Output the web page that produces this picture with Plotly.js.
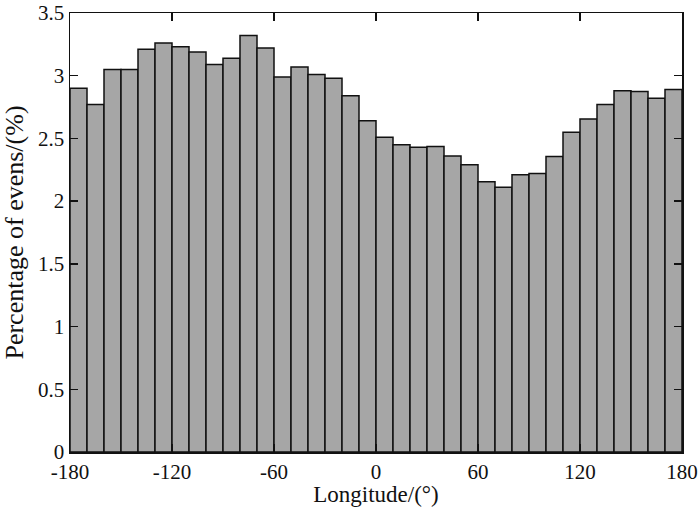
<!DOCTYPE html>
<html>
<head>
<meta charset="utf-8">
<script src="https://cdn.plot.ly/plotly-3.0.1.min.js"></script>
<style>html,body{margin:0;padding:0;background:#fff}#chart{width:700px;height:507px}</style>
</head>
<body>
<div id="chart"></div>
<script>
var binCenters = [-175,-165,-155,-145,-135,-125,-115,-105,-95,-85,-75,-65,-55,-45,-35,-25,-15,-5,
                  5,15,25,35,45,55,65,75,85,95,105,115,125,135,145,155,165,175];
var percentages = [2.90,2.77,3.05,3.05,3.21,3.26,3.23,3.19,3.09,3.14,3.32,3.22,2.99,3.07,3.01,2.98,2.84,2.64,
                   2.51,2.45,2.43,2.435,2.36,2.29,2.155,2.11,2.21,2.22,2.355,2.55,2.655,2.77,2.88,2.875,2.82,2.89];
var xTicks = [-180,-120,-60,0,60,120,180];
var yTicks = [0,0.5,1,1.5,2,2.5,3,3.5];

var trace = {
  type: 'bar',
  x: binCenters,
  y: percentages,
  width: 10,
  marker: {color: '#a6a6a6', line: {color: '#111', width: 1.5}},
  hoverinfo: 'x+y'
};
var fam = '"Liberation Serif", "Times New Roman", serif';
var tickFont = {family: fam, size: 21, color: '#111'};
var layout = {
  width: 700, height: 507,
  margin: {l: 70, r: 18, t: 13, b: 55},
  paper_bgcolor: '#fff', plot_bgcolor: '#fff',
  font: tickFont,
  showlegend: false,
  bargap: 0,
  xaxis: {
    range: [-180, 180],
    tickvals: xTicks, ticktext: xTicks.map(String),
    ticks: 'inside', ticklen: 8, tickcolor: '#111', tickwidth: 1.5,
    showline: true, linecolor: '#111', linewidth: 1.5, mirror: 'ticks',
    showgrid: false, zeroline: false,
    tickfont: tickFont,
    title: {text: 'Longitude/(°)', font: {family: fam, size: 23, color: '#111'}, standoff: 2}
  },
  yaxis: {
    range: [0, 3.5],
    tickvals: yTicks, ticktext: yTicks.map(String),
    ticks: 'inside', ticklen: 8, tickcolor: '#111', tickwidth: 1.5,
    showline: true, linecolor: '#111', linewidth: 1.5, mirror: 'ticks',
    showgrid: false, zeroline: false,
    tickfont: tickFont,
    title: {text: 'Percentage of evens/(%)', font: {family: fam, size: 26, color: '#111'}, standoff: 7}
  }
};
Plotly.newPlot('chart', [trace], layout, {staticPlot: true, displayModeBar: false});
</script>
</body>
</html>
